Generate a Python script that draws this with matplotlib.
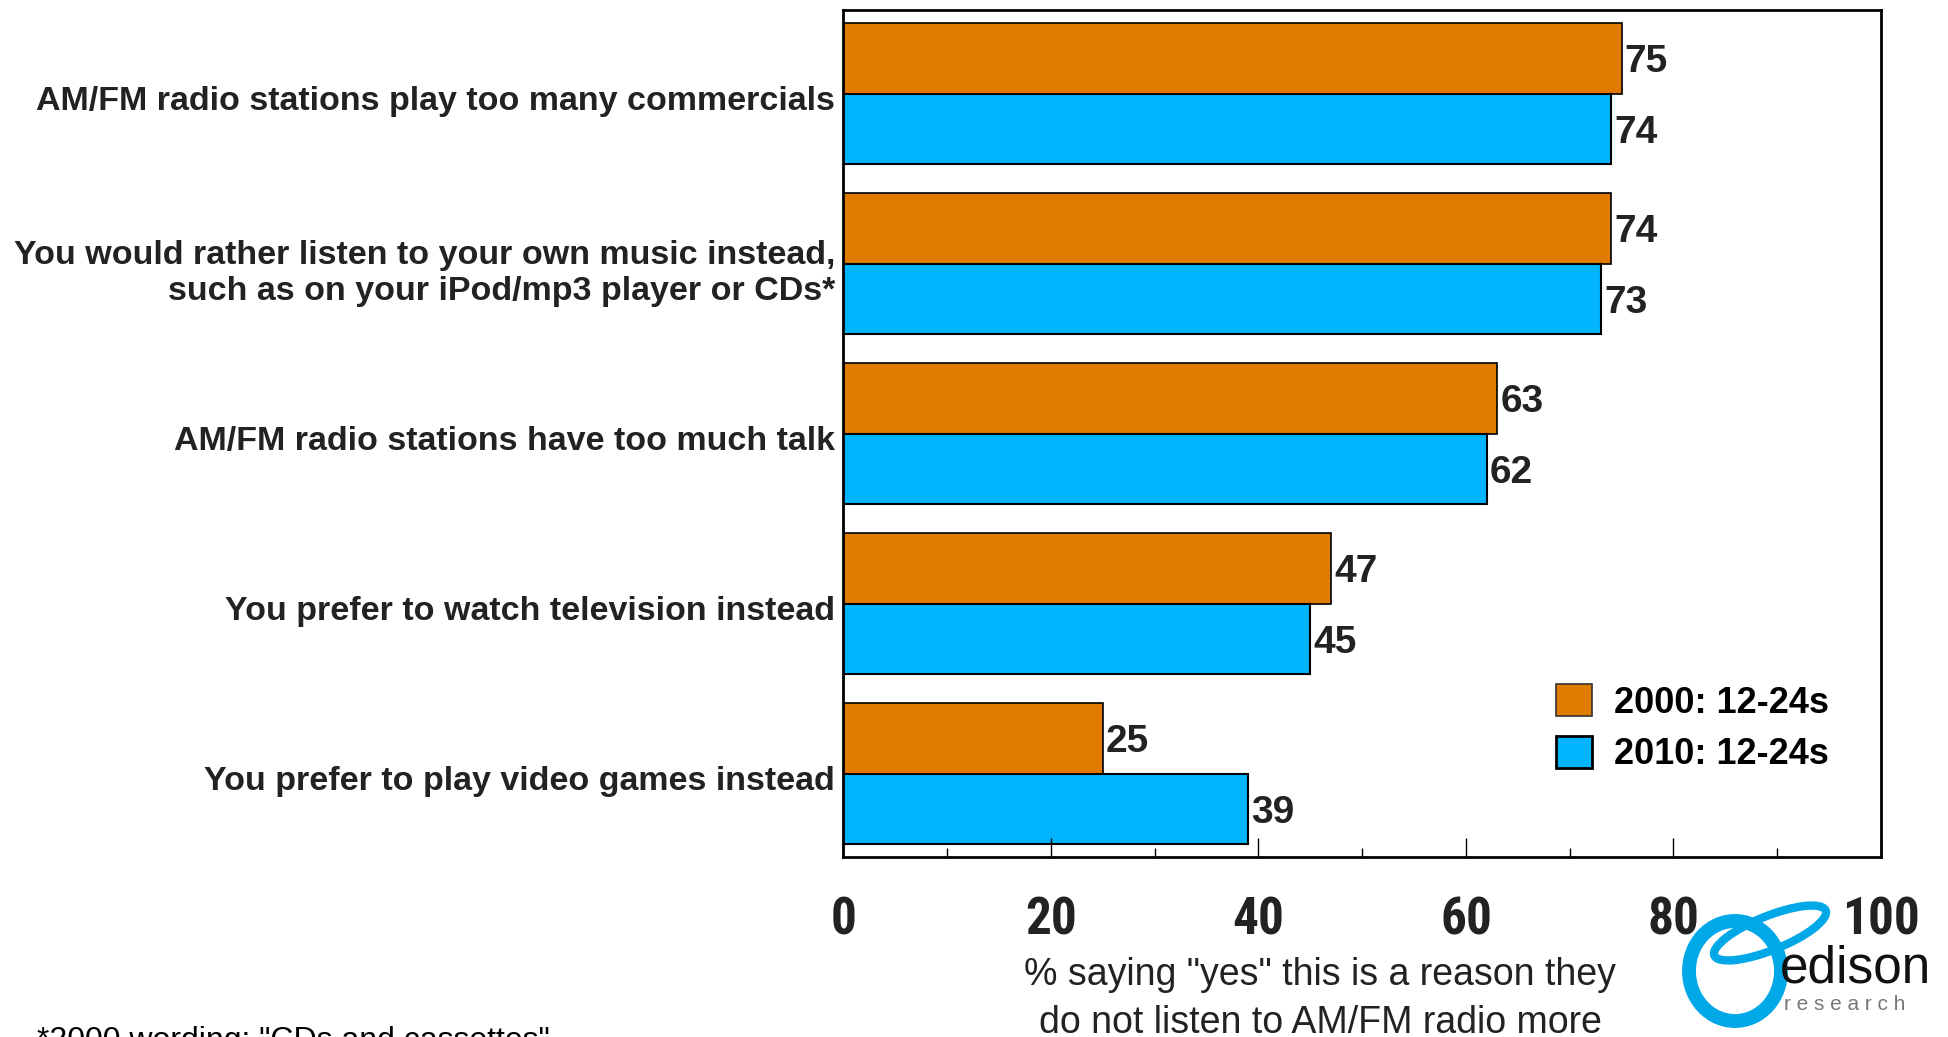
import numpy as np
import matplotlib
matplotlib.use("Agg")
import matplotlib.pyplot as plt
import matplotlib.transforms as mtrans
from matplotlib import font_manager
from matplotlib.patches import Patch, Ellipse

categories = [
    "AM/FM radio stations play too many commercials",
    "You would rather listen to your own music instead,\nsuch as on your iPod/mp3 player or CDs*",
    "AM/FM radio stations have too much talk",
    "You prefer to watch television instead",
    "You prefer to play video games instead",
]
vals_2000 = [75, 74, 63, 47, 25]
vals_2010 = [74, 73, 62, 45, 39]
series_names = ["2000: 12-24s", "2010: 12-24s"]
xticks = [0, 20, 40, 60, 80, 100]

orange = "#E07B00"
blue = "#00B4FF"

plt.rcParams['font.family'] = ['Liberation Sans', 'DejaVu Sans']

# condensed face for the big tick numbers, if one is installed
installed = {f.name for f in font_manager.fontManager.ttflist}
narrow = None
for name in ["Liberation Sans Narrow", "DejaVu Sans Condensed", "Roboto Condensed", "Open Sans Condensed"]:
    if name in installed:
        narrow = name
        break

fig = plt.figure(figsize=(19.48, 10.37), dpi=100)
ax = fig.add_axes([0.433, 0.1736, 0.5326, 0.8164])
down = mtrans.ScaledTranslation(0, -4 / 100, fig.dpi_scale_trans)

y = np.arange(len(categories))
h = 0.416
ax.barh(y - h / 2, vals_2000, height=h, color=orange, edgecolor="black", linewidth=1.2)
ax.barh(y + h / 2, vals_2010, height=h, color=blue, edgecolor="black", linewidth=1.5)

for i in range(len(categories)):
    ax.text(vals_2000[i] + 0.3, y[i] - h / 2, str(vals_2000[i]), va="center", ha="left",
            fontsize=28, fontweight="bold", color="#222222", transform=ax.transData + down)
    ax.text(vals_2010[i] + 0.3, y[i] + h / 2, str(vals_2010[i]), va="center", ha="left",
            fontsize=28, fontweight="bold", color="#222222", transform=ax.transData + down)

ax.set_xlim(0, 100)
ax.set_ylim(len(categories) - 0.51, -0.49)
ax.set_yticks(y)
ax.set_yticklabels(categories, fontsize=24.5, fontweight="bold", color="#222222",
                   linespacing=1.2)
ax.tick_params(axis="y", length=0, pad=6)
for lbl in ax.get_yticklabels():
    lbl.set_transform(lbl.get_transform() + down)

ax.set_xticks(xticks)
ax.set_xticks(np.arange(10, 100, 20), minor=True)
if narrow:
    tick_font = {"family": [narrow, "Liberation Sans"], "weight": "bold", "size": 37, "color": "#222222"}
else:
    tick_font = {"family": ["Liberation Sans"], "weight": "bold", "size": 33, "color": "#222222"}
ax.set_xticklabels([str(t) for t in xticks], fontdict=tick_font)
ax.tick_params(axis="x", which="major", direction="in", length=14, width=1, pad=28)
ax.tick_params(axis="x", which="minor", direction="in", length=6.5, width=1)
ax.tick_params(axis="x", top=False)

for s in ax.spines.values():
    s.set_linewidth(2)
    s.set_color("black")

handles = [Patch(facecolor=orange, edgecolor="#333333", linewidth=1.2),
           Patch(facecolor=blue, edgecolor="black", linewidth=2)]
fig.legend(handles, series_names, loc="upper left", bbox_to_anchor=(1556 / 1948, 1 - 684 / 1037),
           frameon=False, prop={"weight": "bold", "size": 26}, borderaxespad=0, borderpad=0,
           handlelength=1.0, handleheight=1.0, handletextpad=0.6, labelspacing=0.42)

fig.text(1320 / 1948, 1 - 957 / 1037,
         "% saying \"yes\" this is a reason they\ndo not listen to AM/FM radio more",
         ha="center", va="top", fontsize=27, color="#222222", linespacing=1.42)

fig.text(37 / 1948, 1 - 1026 / 1037, "*2000 wording: \"CDs and cassettes\"", ha="left", va="top",
         fontsize=23, color="black")

# logo, drawn in pixel units
lax = fig.add_axes([1660 / 1948, 0, 288 / 1948, 170 / 1037])
lax.set_xlim(0, 288)
lax.set_ylim(0, 170)
lax.axis("off")
lax.add_patch(Ellipse((75, 66), 92, 100, fill=False, edgecolor="#00A8E8", linewidth=10))
lax.add_patch(Ellipse((110, 104), 120, 34, angle=22, fill=False, edgecolor="#00A8E8", linewidth=6))
lax.text(120, 68, "edison", fontsize=37, color="#111111", va="center", ha="left")
lax.text(124, 32, "r e s e a r c h", fontsize=15, color="#777777", va="center", ha="left")

fig.savefig("out.png", dpi=100)
